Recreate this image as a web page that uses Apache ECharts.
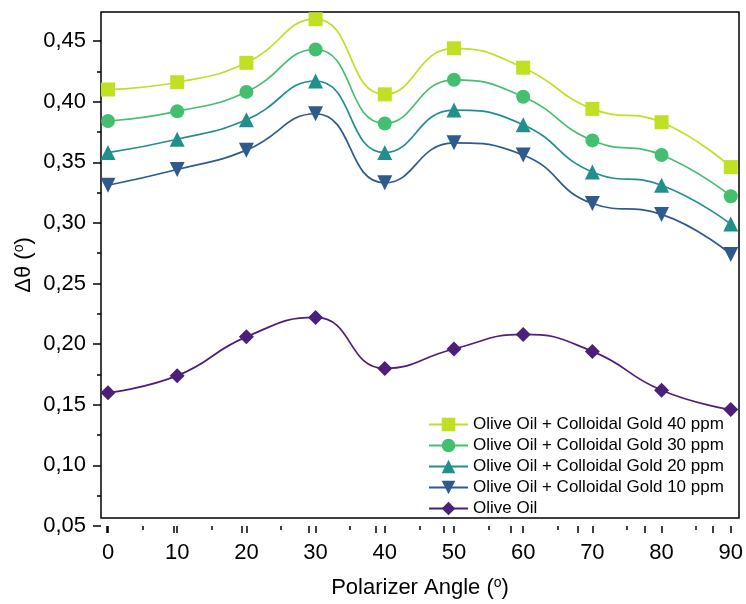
<!DOCTYPE html>
<html>
<head>
<meta charset="utf-8">
<script src="https://cdn.jsdelivr.net/npm/echarts@6/dist/echarts.min.js"></script>
<style>html,body{margin:0;padding:0;background:#fff}#c{width:746px;height:604px}</style>
</head>
<body>
<div id="c"></div>
<script>
const angles = [0, 10, 20, 30, 40, 50, 60, 70, 80, 90];
const seriesNames = [
  'Olive Oil + Colloidal Gold 40 ppm',
  'Olive Oil + Colloidal Gold 30 ppm',
  'Olive Oil + Colloidal Gold 20 ppm',
  'Olive Oil + Colloidal Gold 10 ppm',
  'Olive Oil'
];
const gold40 = [0.410, 0.416, 0.432, 0.468, 0.406, 0.444, 0.428, 0.394, 0.383, 0.346];
const gold30 = [0.384, 0.392, 0.408, 0.443, 0.382, 0.418, 0.404, 0.368, 0.356, 0.322];
const gold20 = [0.358, 0.369, 0.385, 0.417, 0.358, 0.393, 0.381, 0.342, 0.331, 0.299];
const gold10 = [0.331, 0.344, 0.360, 0.390, 0.333, 0.366, 0.356, 0.316, 0.307, 0.274];
const oliveOil = [0.160, 0.174, 0.206, 0.222, 0.180, 0.196, 0.208, 0.194, 0.162, 0.146];
const yTicks = [0.05, 0.10, 0.15, 0.20, 0.25, 0.30, 0.35, 0.40, 0.45];
const xTicks = [0, 10, 20, 30, 40, 50, 60, 70, 80, 90];

const allValues = [gold40, gold30, gold20, gold10, oliveOil];
const colors = ['#bfe023', '#44bf70', '#21908c', '#2e5a8e', '#4b1f7a'];
const symbols = ['rect', 'circle', 'triangle', 'path://M0,0 L10,0 L5,9 Z', 'diamond'];
const sizes = [14, 14, 15, 15, 15];
const FONT = '"Liberation Sans", Arial, sans-serif';
const yMin = yTicks[0], yMax = yTicks[yTicks.length - 1];
const yStep = 0.05, xStep = 10;
// pixel geometry of the data area
const dataLeft = 108, dataRight = 13, dataTop = 41, dataBottom = 78;
const yPxPerStep = (604 - dataTop - dataBottom) / ((yMax - yMin) / yStep);
const xPxPerStep = (746 - dataLeft - dataRight) / ((xTicks[xTicks.length - 1] - xTicks[0]) / xStep);

const chart = echarts.init(document.getElementById('c'), null, {renderer: 'canvas'});
const series = allValues.map((vals, i) => ({
  name: seriesNames[i],
  type: 'line',
  xAxisIndex: 1,
  yAxisIndex: 1,
  data: vals.map((v, j) => [angles[j], v]),
  smooth: 0.5,
  clip: false,
  symbol: symbols[i],
  symbolSize: sizes[i],
  lineStyle: {color: colors[i], width: 1.7},
  itemStyle: {color: colors[i]},
  z: 3
}));

function nameRich() {
  return {
    t: {fontFamily: FONT, fontSize: 22, color: '#000', lineHeight: 24},
    s: {fontFamily: FONT, fontSize: 14, color: '#000', verticalAlign: 'top', lineHeight: 14}
  };
}
function hidden(extra) {
  return Object.assign({axisLine: {show: false}, axisTick: {show: false}, axisLabel: {show: false}, splitLine: {show: false}}, extra);
}
function tickLine() { return {color: '#000', width: 1.5}; }

chart.setOption({
  animation: false,
  backgroundColor: '#fff',
  grid: [
    {left: 101, right: 7, top: 12, bottom: dataBottom, show: true, borderColor: '#000', borderWidth: 1.5, backgroundColor: 'transparent'},
    {left: dataLeft, right: dataRight, top: dataTop, bottom: dataBottom},
    {left: 101, right: 7, top: dataTop, bottom: dataBottom},
    // half-step shifted grid: its minor ticks fall on the major tick values of y
    {left: 101, right: 7, top: dataTop - yPxPerStep / 2, bottom: dataBottom - yPxPerStep / 2},
    // half-step shifted grid: its minor ticks fall on the major tick values of x
    {left: dataLeft - xPxPerStep / 2, right: dataRight - xPxPerStep / 2, top: dataTop, bottom: dataBottom}
  ],
  xAxis: [
    hidden({gridIndex: 0, type: 'value', min: 0, max: 1,
     name: '{t|Polarizer Angle (}{s|o}{t|)}', nameLocation: 'middle', nameGap: 58,
     nameTextStyle: {rich: nameRich()}}),
    {gridIndex: 1, type: 'value', min: xTicks[0], max: xTicks[xTicks.length - 1], interval: xStep,
     axisLine: {show: false},
     axisTick: {show: true, length: 7, lineStyle: tickLine()},
     minorTick: {show: true, splitNumber: 2, length: 4, lineStyle: tickLine()},
     axisLabel: {color: '#000', fontFamily: FONT, fontSize: 22, margin: 16},
     splitLine: {show: false}},
    hidden({gridIndex: 2, type: 'value', min: 0, max: 1}),
    hidden({gridIndex: 3, type: 'value', min: 0, max: 1}),
    {gridIndex: 4, type: 'value', min: xTicks[0] - xStep / 2, max: xTicks[xTicks.length - 1] + xStep / 2, interval: xStep,
     axisLine: {show: false}, axisTick: {show: false}, axisLabel: {show: false}, splitLine: {show: false},
     minorTick: {show: true, splitNumber: 2, length: 7, lineStyle: tickLine()}}
  ],
  yAxis: [
    hidden({gridIndex: 0, type: 'value', min: 0, max: 1,
     name: '{t|Δθ (}{s|o}{t|)}', nameLocation: 'middle', nameGap: 65,
     nameTextStyle: {rich: nameRich()}}),
    hidden({gridIndex: 1, type: 'value', min: yMin, max: yMax, interval: yStep}),
    {gridIndex: 2, type: 'value', min: yMin, max: yMax, interval: yStep,
     axisLine: {show: false},
     axisTick: {show: true, length: 8, lineStyle: tickLine()},
     minorTick: {show: true, splitNumber: 2, length: 4, lineStyle: tickLine()},
     axisLabel: {color: '#000', fontFamily: FONT, fontSize: 22, margin: 15, formatter: v => v.toFixed(2).replace('.', ',')},
     splitLine: {show: false}},
    {gridIndex: 3, type: 'value', min: yMin - yStep / 2, max: yMax + yStep / 2, interval: yStep,
     axisLine: {show: false}, axisTick: {show: false}, axisLabel: {show: false}, splitLine: {show: false},
     minorTick: {show: true, splitNumber: 2, length: 8, lineStyle: tickLine()}},
    hidden({gridIndex: 4, type: 'value', min: 0, max: 1})
  ],
  legend: {
    orient: 'vertical',
    left: 428,
    top: 416,
    padding: 0,
    itemWidth: 39,
    itemHeight: 17,
    itemGap: 4,
    textStyle: {color: '#000', fontFamily: FONT, fontSize: 17},
    data: seriesNames
  },
  series: series
});
</script>
</body>
</html>
